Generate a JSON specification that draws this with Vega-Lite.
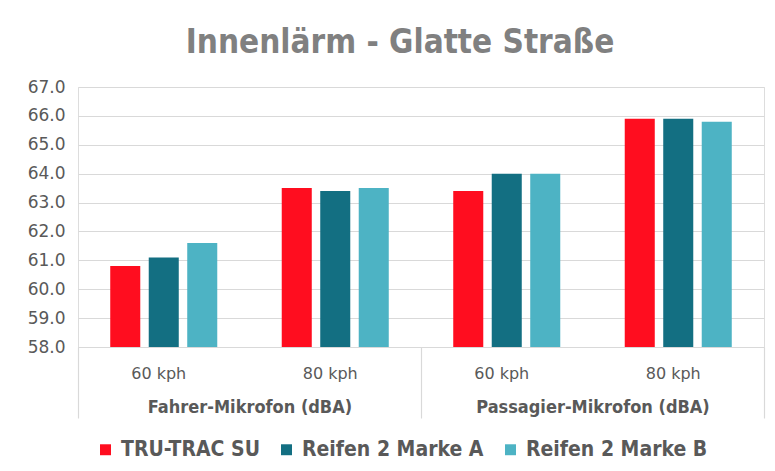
{
  "$schema": "https://vega.github.io/schema/vega-lite/v6.json",
  "width": 686,
  "height": 260,
  "autosize": {"type": "none"},
  "padding": {"left": 78, "top": 87, "right": 11, "bottom": 124},
  "background": "white",
  "title": {
    "text": "Innenlärm - Glatte Straße",
    "fontSize": 33,
    "font": "DejaVu Sans Condensed",
    "fontWeight": "bold",
    "color": "#808080",
    "anchor": "middle",
    "dx": -21,
    "offset": 18
  },
  "data": {
    "values": [
      {"key": "Fahrer-Mikrofon (dBA)|60 kph", "mic": "Fahrer-Mikrofon (dBA)", "tyre": "TRU-TRAC SU", "value": 60.8},
      {"key": "Fahrer-Mikrofon (dBA)|60 kph", "mic": "Fahrer-Mikrofon (dBA)", "tyre": "Reifen 2 Marke A", "value": 61.1},
      {"key": "Fahrer-Mikrofon (dBA)|60 kph", "mic": "Fahrer-Mikrofon (dBA)", "tyre": "Reifen 2 Marke B", "value": 61.6},
      {"key": "Fahrer-Mikrofon (dBA)|80 kph", "mic": "Fahrer-Mikrofon (dBA)", "tyre": "TRU-TRAC SU", "value": 63.5},
      {"key": "Fahrer-Mikrofon (dBA)|80 kph", "mic": "Fahrer-Mikrofon (dBA)", "tyre": "Reifen 2 Marke A", "value": 63.4},
      {"key": "Fahrer-Mikrofon (dBA)|80 kph", "mic": "Fahrer-Mikrofon (dBA)", "tyre": "Reifen 2 Marke B", "value": 63.5},
      {"key": "Passagier-Mikrofon (dBA)|60 kph", "mic": "Passagier-Mikrofon (dBA)", "tyre": "TRU-TRAC SU", "value": 63.4},
      {"key": "Passagier-Mikrofon (dBA)|60 kph", "mic": "Passagier-Mikrofon (dBA)", "tyre": "Reifen 2 Marke A", "value": 64.0},
      {"key": "Passagier-Mikrofon (dBA)|60 kph", "mic": "Passagier-Mikrofon (dBA)", "tyre": "Reifen 2 Marke B", "value": 64.0},
      {"key": "Passagier-Mikrofon (dBA)|80 kph", "mic": "Passagier-Mikrofon (dBA)", "tyre": "TRU-TRAC SU", "value": 65.9},
      {"key": "Passagier-Mikrofon (dBA)|80 kph", "mic": "Passagier-Mikrofon (dBA)", "tyre": "Reifen 2 Marke A", "value": 65.9},
      {"key": "Passagier-Mikrofon (dBA)|80 kph", "mic": "Passagier-Mikrofon (dBA)", "tyre": "Reifen 2 Marke B", "value": 65.8}
    ]
  },
  "encoding": {
    "y": {
      "field": "value",
      "type": "quantitative",
      "scale": {"domain": [58, 67], "zero": false, "nice": false},
      "axis": {
        "title": null,
        "values": [58, 59, 60, 61, 62, 63, 64, 65, 66, 67],
        "format": ".1f",
        "domain": false,
        "ticks": false,
        "gridColor": "#d9d9d9",
        "gridWidth": 1.2,
        "labelColor": "#595959",
        "labelFontSize": 17,
        "labelFont": "DejaVu Sans",
        "labelPadding": 13
      }
    }
  },
  "layer": [
    {
      "mark": {"type": "bar", "clip": true},
      "encoding": {
        "x": {
          "field": "key",
          "type": "nominal",
          "sort": null,
          "scale": {"paddingInner": 0.376, "paddingOuter": 0.188},
          "axis": {
            "orient": "bottom",
            "title": null,
            "labelExpr": "split(datum.value, '|')[1]",
            "labelAngle": 0,
            "labelOffset": -5,
            "ticks": false,
            "domainColor": "#d9d9d9",
            "domainWidth": 1.2,
            "labelColor": "#595959",
            "labelFontSize": 16,
            "labelFont": "DejaVu Sans",
            "labelPadding": 18
          }
        },
        "xOffset": {
          "field": "tyre",
          "type": "nominal",
          "sort": ["TRU-TRAC SU", "Reifen 2 Marke A", "Reifen 2 Marke B"],
          "scale": {"paddingInner": 0.22, "paddingOuter": 0}
        },
        "color": {
          "field": "tyre",
          "type": "nominal",
          "sort": ["TRU-TRAC SU", "Reifen 2 Marke A", "Reifen 2 Marke B"],
          "scale": {
            "domain": ["TRU-TRAC SU", "Reifen 2 Marke A", "Reifen 2 Marke B"],
            "range": ["#FF0D1F", "#136F82", "#4DB3C4"]
          },
          "legend": {
            "title": null,
            "orient": "none",
            "legendX": 17,
            "legendY": 352,
            "direction": "horizontal",
            "symbolType": "square",
            "symbolSize": 120,
            "symbolStrokeWidth": 0,
            "labelFont": "DejaVu Sans Condensed",
            "labelFontWeight": "bold",
            "labelFontSize": 21,
            "labelColor": "#595959",
            "columnPadding": 16,
            "labelOffset": 5,
            "labelLimit": 400
          }
        }
      }
    },
    {
      "mark": {"type": "bar", "opacity": 0, "clip": true},
      "encoding": {
        "x": {
          "field": "mic",
          "type": "nominal",
          "sort": null,
          "scale": {"paddingInner": 0, "paddingOuter": 0},
          "axis": {
            "orient": "bottom",
            "title": null,
            "labelAngle": 0,
            "ticks": true,
            "tickBand": "extent",
            "tickSize": 71,
            "tickColor": "#d9d9d9",
            "tickWidth": 1.2,
            "domain": false,
            "labelColor": "#595959",
            "labelFontSize": 18,
            "labelFont": "DejaVu Sans Condensed",
            "labelFontWeight": "bold",
            "labelLimit": 400,
            "labelPadding": -20
          }
        }
      }
    }
  ],
  "resolve": {"scale": {"x": "independent", "color": "shared"}, "axis": {"x": "independent"}}
}
